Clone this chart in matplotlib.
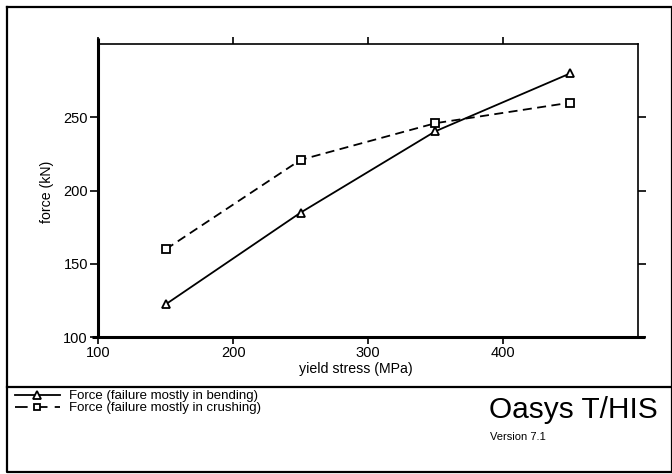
import matplotlib
matplotlib.use('Agg')
import matplotlib.pyplot as plt
from matplotlib.lines import Line2D

plt.rcParams['font.family'] = ['Liberation Sans', 'DejaVu Sans']

# data
yield_stress = [150, 250, 350, 450]
force_bending = [122.5, 185, 240.5, 280]
force_crushing = [160, 221, 246, 260]

x_ticks = [100, 200, 300, 400]
y_ticks = [100, 150, 200, 250]

W, H = 672, 474
fig = plt.figure(figsize=(W / 100, H / 100), dpi=100)


def fx(px):
    return px / W


def fy(py):
    return 1 - py / H


ax = fig.add_axes([fx(98.3), fy(337.3), fx(637.7) - fx(98.3), fy(44) - fy(337.3)])
ax.set_xlim(100, 500)
ax.set_ylim(100, 300)

ax.plot(yield_stress, force_bending, color='black', lw=1.3, marker='^',
        ms=6, mfc='white', mec='black', mew=1.3,
        label='Force (failure mostly in bending)')
ax.plot(yield_stress, force_crushing, color='black', lw=1.3, ls=(0, (5, 3)),
        marker='s', ms=5.5, mfc='white', mec='black', mew=1.3,
        label='Force (failure mostly in crushing)')

ax.set_xticks(x_ticks)
ax.set_yticks(y_ticks)
ax.tick_params(direction='out', length=5, width=1.2, labelsize=10.5, pad=1.5,
               top=True, right=True)
ax.tick_params(axis='y', length=6, pad=1.5)

for s in ['top', 'right']:
    ax.spines[s].set_linewidth(1.2)
for s in ['left', 'bottom']:
    ax.spines[s].set_visible(False)
# thicker left / bottom axis lines that run a little past the box
ax.plot([0, 0], [0, 1.02], transform=ax.transAxes, color='black', lw=2.2,
        clip_on=False, solid_capstyle='butt')
ax.plot([-0.011, 1.013], [0, 0], transform=ax.transAxes, color='black', lw=2.2,
        clip_on=False, solid_capstyle='butt')

fig.text(fx(356), fy(369), 'yield stress (MPa)', fontsize=10.2, ha='center', va='center')
fig.text(fx(47), fy(192), 'force (kN)', fontsize=10.2, rotation=90, ha='center', va='center')

# page frame and separator
fig.add_artist(Line2D([fx(7), fx(7), fx(672), fx(672), fx(7)],
                      [fy(7), fy(472), fy(472), fy(7), fy(7)],
                      color='black', lw=1.6))
fig.add_artist(Line2D([fx(7), fx(672)], [fy(387), fy(387)], color='black', lw=1.6))

handles, labels = ax.get_legend_handles_labels()
leg = fig.legend(handles, labels, loc='upper left', bbox_to_anchor=(fx(15), fy(390)),
                 frameon=False, fontsize=9.5, handlelength=3.4, handletextpad=0.7,
                 labelspacing=0.0, borderaxespad=0, borderpad=0, markerscale=0.9)
leg.get_lines()[1].set_dashes((7, 4))

fig.text(fx(489), fy(410), 'Oasys T/HIS', fontsize=21.5, ha='left', va='center')
fig.text(fx(490), fy(437), 'Version 7.1', fontsize=8, ha='left', va='center')

fig.savefig('out.png', dpi=100)
